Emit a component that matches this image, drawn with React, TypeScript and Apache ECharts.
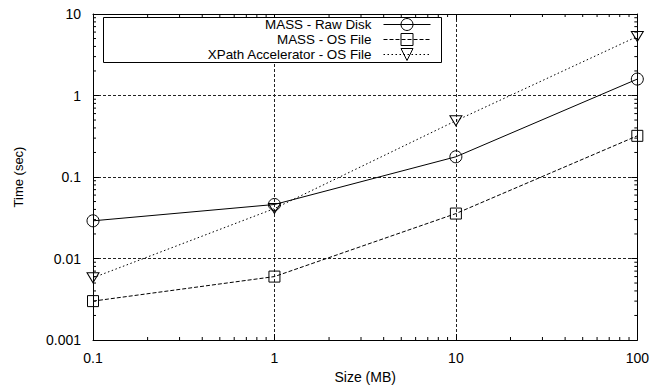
import React, { useEffect, useRef } from "react";
import * as echarts from "echarts";

// Dataset sizes (MB) and query times (sec)
const sizes = [0.1, 1, 10, 100];
const rawDisk = [0.029, 0.046, 0.177, 1.59];
const osFile = [0.003, 0.006, 0.0356, 0.32];
const xpathOsFile = [0.0058, 0.041, 0.49, 5.3];

const seriesNames = [
  "MASS - Raw Disk",
  "MASS - OS File",
  "XPath Accelerator - OS File",
];

// Decade starts used for the logarithmic minor ticks (2..9 per decade)
const xDecades = [0.1, 1, 10];
const yDecades = [0.001, 0.01, 0.1, 1];
const minorSteps = [2, 3, 4, 5, 6, 7, 8, 9];

const FONT = "'Liberation Sans', Arial, Helvetica, sans-serif";
const INK = "#000";

const fmt = (v: number) => String(Number(v.toPrecision(6)));

const pairs = (ys: number[]) => sizes.map((x, i) => [x, ys[i]]);

const downTriangle = "path://M0,0L12,0L6,10Z";

export default function App() {
  const ref = useRef<HTMLDivElement>(null);

  useEffect(() => {
    if (!ref.current) return;
    const chart = echarts.init(ref.current, null, { renderer: "svg" });

    const xMinor = xDecades.flatMap((d) => minorSteps.map((m) => d * m));
    const yMinor = yDecades.flatMap((d) => minorSteps.map((m) => d * m));

    const baseAxis = {
      type: "log" as const,
      logBase: 10,
      axisLine: { show: true, lineStyle: { color: INK, width: 1 } },
      axisTick: { show: true, inside: true, length: 6, lineStyle: { color: INK } },
    };

    const markerStyle = { color: "rgba(0,0,0,0)", borderColor: INK, borderWidth: 1 };

    const tickLine = (x1: number, y1: number, x2: number, y2: number) => ({
      type: "line",
      shape: { x1, y1, x2, y2 },
      style: { stroke: INK, lineWidth: 1 },
    });

    chart.setOption({
      animation: false,
      backgroundColor: "#fff",
      textStyle: { fontFamily: FONT },
      grid: { left: 93, right: 13, top: 14, bottom: 42 },
      graphic: [
        {
          type: "rect",
          left: 103,
          top: 17,
          z: 3,
          shape: { width: 338, height: 45 },
          style: { fill: "#fff", stroke: INK, lineWidth: 1 },
        },
      ],
      legend: {
        data: seriesNames,
        orient: "vertical",
        align: "right",
        right: 221,
        top: 17,
        padding: 0,
        itemGap: 0,
        itemWidth: 47,
        itemHeight: 15,
        lineStyle: { width: 1 },
        itemStyle: { borderWidth: 1 },
        textStyle: {
          fontFamily: FONT,
          fontSize: 13.4,
          color: INK,
          lineHeight: 15,
          padding: [0, 7, 0, 0],
        },
      },
      xAxis: [
        {
          ...baseAxis,
          min: 0.1,
          max: 100,
          position: "bottom",
          name: "Size (MB)",
          nameLocation: "middle",
          nameGap: 30,
          nameTextStyle: { fontFamily: FONT, fontSize: 14, color: INK },
          axisLabel: {
            color: INK,
            fontFamily: FONT,
            fontSize: 14,
            margin: 11,
            formatter: fmt,
          },
          splitLine: {
            show: true,
            lineStyle: { color: "#222", width: 1, type: [3, 2] },
          },
        },
        {
          ...baseAxis,
          min: 0.1,
          max: 100,
          position: "top",
          axisLabel: { show: false },
          splitLine: { show: false },
        },
      ],
      yAxis: [
        {
          ...baseAxis,
          min: 0.001,
          max: 10,
          position: "left",
          name: "Time (sec)",
          nameLocation: "middle",
          nameRotate: 90,
          nameGap: 68,
          nameTextStyle: { fontFamily: FONT, fontSize: 13, color: INK },
          axisLabel: {
            color: INK,
            fontFamily: FONT,
            fontSize: 14,
            margin: 12,
            formatter: fmt,
          },
          splitLine: {
            show: true,
            lineStyle: { color: "#222", width: 1, type: [3, 2] },
          },
        },
        {
          ...baseAxis,
          min: 0.001,
          max: 10,
          position: "right",
          axisLabel: { show: false },
          splitLine: { show: false },
        },
      ],
      series: [
        {
          name: seriesNames[0],
          type: "line",
          data: pairs(rawDisk),
          symbol: "circle",
          symbolSize: 12,
          clip: false,
          z: 5,
          itemStyle: markerStyle,
          lineStyle: { color: INK, width: 1, type: "solid" },
        },
        {
          name: seriesNames[1],
          type: "line",
          data: pairs(osFile),
          symbol: "rect",
          symbolSize: 11,
          clip: false,
          z: 5,
          itemStyle: markerStyle,
          lineStyle: { color: INK, width: 1, type: [4, 2] },
        },
        {
          name: seriesNames[2],
          type: "line",
          data: pairs(xpathOsFile),
          symbol: downTriangle,
          symbolSize: [12, 10],
          clip: false,
          z: 5,
          itemStyle: markerStyle,
          lineStyle: { color: INK, width: 1, type: [1.5, 2.5] },
        },
        {
          // minor ticks on the bottom and top edges
          type: "custom",
          silent: true,
          clip: false,
          z: 1,
          data: xMinor.map((v) => [v, 1]),
          renderItem: (params: any, api: any) => {
            const p = api.coord([api.value(0), 1]);
            const cs = params.coordSys;
            const bottom = cs.y + cs.height;
            return {
              type: "group",
              children: [
                tickLine(p[0], bottom, p[0], bottom - 3),
                tickLine(p[0], cs.y, p[0], cs.y + 3),
              ],
            };
          },
        },
        {
          // minor ticks on the left and right edges
          type: "custom",
          silent: true,
          clip: false,
          z: 1,
          data: yMinor.map((v) => [1, v]),
          renderItem: (params: any, api: any) => {
            const p = api.coord([1, api.value(1)]);
            const cs = params.coordSys;
            const right = cs.x + cs.width;
            return {
              type: "group",
              children: [
                tickLine(cs.x, p[1], cs.x + 3, p[1]),
                tickLine(right, p[1], right - 3, p[1]),
              ],
            };
          },
        },
      ],
    });

    return () => chart.dispose();
  }, []);

  return (
    <div
      ref={ref}
      style={{ position: "fixed", left: 0, top: 0, width: 652, height: 389 }}
    />
  );
}
